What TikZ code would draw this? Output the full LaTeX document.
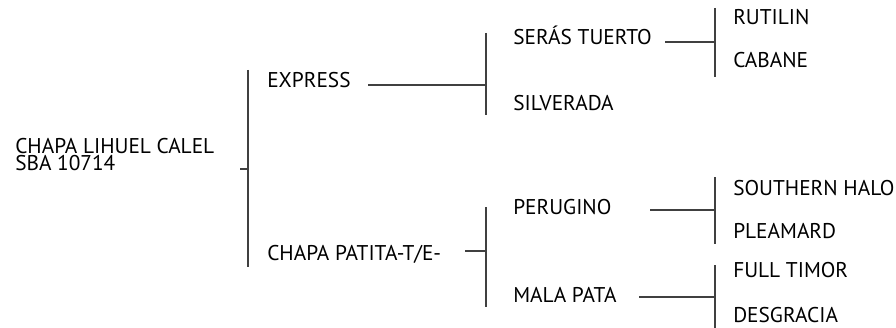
\documentclass[tikz,border=0pt]{standalone}
\usepackage{fontspec}
\setmainfont{PT Sans}
\usetikzlibrary{positioning,calc}

\begin{document}
\begin{tikzpicture}[x=0.75pt,y=-0.75pt,
    horse/.style={anchor=base west, inner sep=0pt, font=\fontsize{16}{12.75}\selectfont, text=black},
    bracket/.style={draw=black!75, line width=0.8pt},
]
\useasboundingbox (0,0) rectangle (896,328);

% Sire (root)
\node[horse, align=left] (sire) at (15,170) {CHAPA LIHUEL CALEL\\SBA 10714};

% Second generation
\node[horse] (express) at (267,88) {EXPRESS};
\node[horse] (patita) at (267,260) {CHAPA PATITA-T/E-};

% Third generation
\node[horse] (seras) at (513,45) {SERÁS TUERTO};
\node[horse] (silverada) at (513,110) {SILVERADA};
\node[horse] (perugino) at (513,214) {PERUGINO};
\node[horse] (malapata) at (513,302) {MALA PATA};

% Fourth generation
\node[horse] (rutilin) at (733,25) {RUTILIN};
\node[horse] (cabane) at (733,68) {CABANE};
\node[horse] (southern) at (733,195) {SOUTHERN HALO};
\node[horse] (pleamard) at (733,238) {PLEAMARD};
\node[horse] (fulltimor) at (733,277) {FULL TIMOR};
\node[horse] (desgracia) at (733,322) {DESGRACIA};

% Bracket corners and tick starts
\coordinate (j0) at (248,169);  \coordinate (t0) at (240,169);
\coordinate (v0a) at (248,70);  \coordinate (v0b) at (248,267);
\coordinate (j1) at (486,85);   \coordinate (t1) at (368,85);
\coordinate (v1a) at (486,33);  \coordinate (v1b) at (486,115);
\coordinate (j2) at (486,251);  \coordinate (t2) at (465,251);
\coordinate (v2a) at (486,207); \coordinate (v2b) at (486,307);
\coordinate (j3) at (715,42);   \coordinate (t3) at (665,42);
\coordinate (v3a) at (715,8);   \coordinate (v3b) at (715,77);
\coordinate (j4) at (715,210);  \coordinate (t4) at (650,210);
\coordinate (v4a) at (715,177); \coordinate (v4b) at (715,244);
\coordinate (j5) at (715,297);  \coordinate (t5) at (639,297);
\coordinate (v5a) at (715,265); \coordinate (v5b) at (715,328);

% Brackets
\foreach \k in {0,...,5}{
  \draw[bracket] (t\k) -- (j\k);
  \draw[bracket] (v\k a) -- (v\k b);
}

\end{tikzpicture}
\end{document}
